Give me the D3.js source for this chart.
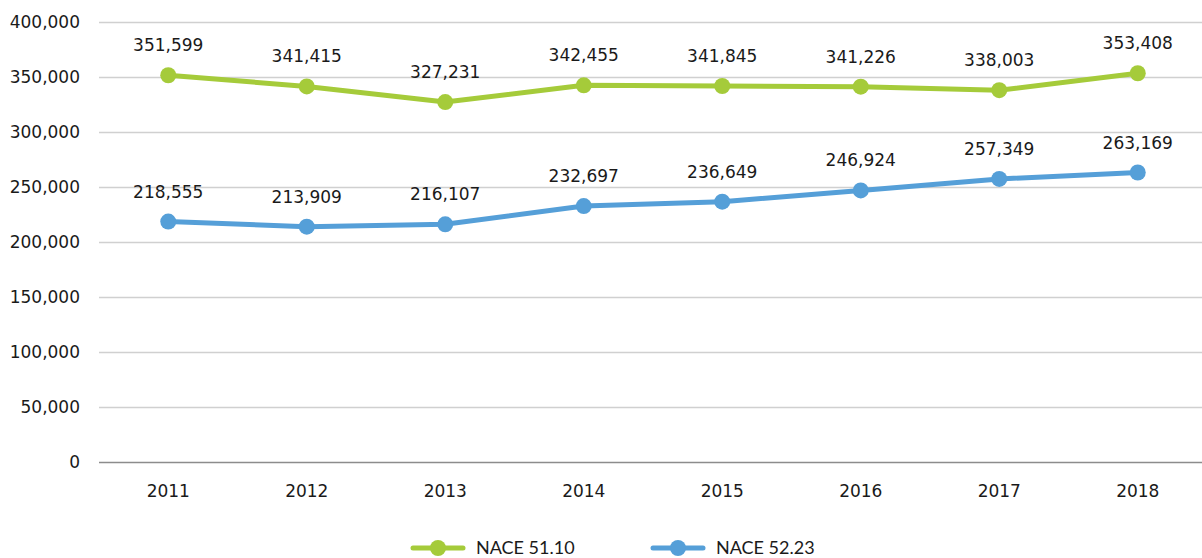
<!DOCTYPE html>
<html>
<head>
<meta charset="utf-8">
<script src="https://cdn.jsdelivr.net/npm/d3@7"></script>
<style>
body { margin: 0; background: #fff; }
</style>
</head>
<body>
<script>
// chart data
var years = ["2011", "2012", "2013", "2014", "2015", "2016", "2017", "2018"];
var nace5110 = [351599, 341415, 327231, 342455, 341845, 341226, 338003, 353408];
var nace5223 = [218555, 213909, 216107, 232697, 236649, 246924, 257349, 263169];
var yTicks = [0, 50000, 100000, 150000, 200000, 250000, 300000, 350000, 400000];
var seriesNames = ["NACE 51.10", "NACE 52.23"];
var seriesColours = ["#a5cb3a", "#559fd8"];

var width = 1202, height = 558;
var axisFont = "'DejaVu Sans', sans-serif";

var svg = d3.select("body").append("svg")
    .attr("width", width).attr("height", height)
    .attr("viewBox", "0,0," + width + "," + height);

var x = d3.scaleBand().domain(years).range([99, 1207]);
var y = d3.scaleLinear().domain([0, 400000]).range([462, 22]);
var fmt = d3.format(",");

// gridlines
svg.append("g").selectAll("line").data(yTicks).enter().append("line")
    .attr("x1", 99).attr("x2", width)
    .attr("y1", function(d){ return y(d) + 0.5; })
    .attr("y2", function(d){ return y(d) + 0.5; })
    .attr("stroke", function(d){ return d == 0 ? "#8c8c8c" : "#d0d0d0"; })
    .attr("stroke-width", 1.3);

// y axis labels
var yAxis = svg.append("g").attr("transform", "translate(80,0)")
    .call(d3.axisLeft(y).tickValues(yTicks).tickFormat(fmt).tickSize(0).tickPadding(0));
yAxis.select(".domain").remove();
yAxis.selectAll("text")
    .attr("font-family", axisFont).attr("font-size", "17px").attr("fill", "#1a1a1a");

// x axis labels
var xAxis = svg.append("g").attr("transform", "translate(0,485)")
    .call(d3.axisBottom(x).tickSize(0).tickPadding(0));
xAxis.select(".domain").remove();
xAxis.selectAll("text")
    .attr("font-family", axisFont).attr("font-size", "17px").attr("fill", "#1a1a1a");

function cx(d, i){ return x(years[i]) + x.bandwidth() / 2; }

function drawSeries(values, colour){
    var line = d3.line()
        .x(function(d, i){ return cx(d, i); })
        .y(function(d){ return y(d); });
    svg.append("path")
        .attr("d", line(values))
        .attr("stroke", colour)
        .attr("stroke-width", 5)
        .attr("stroke-linejoin", "round")
        .attr("fill", "none");
    svg.append("g").selectAll("circle").data(values).enter().append("circle")
        .attr("cx", cx).attr("cy", function(d){ return y(d); })
        .attr("r", 8).attr("fill", colour);
    svg.append("g").selectAll("text").data(values).enter().append("text")
        .attr("x", cx).attr("y", function(d){ return y(d) - 24; })
        .attr("text-anchor", "middle")
        .attr("font-family", axisFont).attr("font-size", "17px").attr("fill", "#1a1a1a")
        .text(function(d){ return fmt(d); });
}

drawSeries(nace5110, seriesColours[0]);
drawSeries(nace5223, seriesColours[1]);

// legend
var legend = svg.append("g").selectAll("g").data(seriesNames).enter().append("g")
    .attr("transform", function(d, i){ return "translate(" + (413 + i * 240) + ",548)"; });
legend.append("line")
    .attr("x1", 0).attr("x2", 50).attr("y1", 0).attr("y2", 0)
    .attr("stroke", function(d, i){ return seriesColours[i]; })
    .attr("stroke-width", 5).attr("stroke-linecap", "round");
legend.append("circle")
    .attr("cx", 25).attr("cy", 0).attr("r", 8)
    .attr("fill", function(d, i){ return seriesColours[i]; });
legend.append("text")
    .attr("x", 63).attr("y", 6)
    .attr("font-family", "Lato, 'Noto Sans', sans-serif").attr("font-size", "18px").attr("fill", "#1a1a1a")
    .text(function(d){ return d; });
</script>
</body>
</html>
